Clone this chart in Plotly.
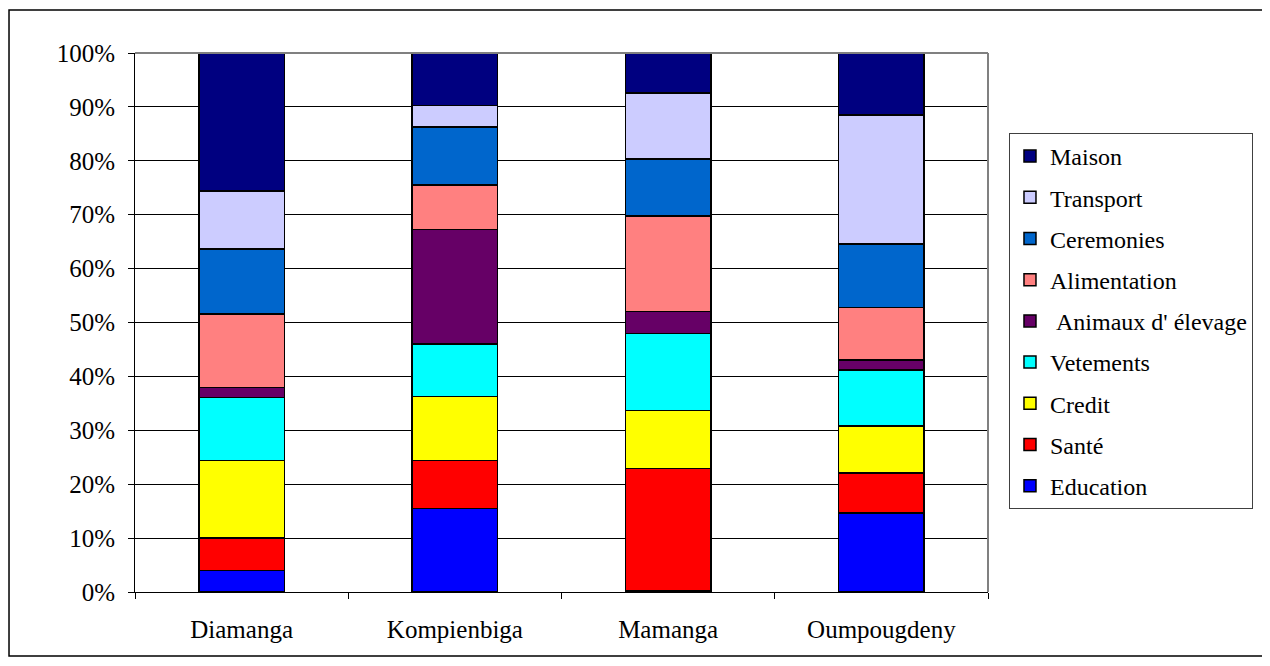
import plotly.graph_objects as go

villages = ["Diamanga", "Kompienbiga", "Mamanga", "Oumpougdeny"]
categories = ["Education", "Santé", "Credit", "Vetements", "Animaux d' élevage",
              "Alimentation", "Ceremonies", "Transport", "Maison"]
education = [4.0, 15.5, 0.3, 14.7]
sante = [6.0, 8.9, 22.6, 7.4]
credit = [14.4, 11.9, 10.8, 8.7]
vetements = [11.7, 9.7, 14.3, 10.4]
animaux = [1.8, 21.3, 4.0, 1.8]
alimentation = [13.7, 8.2, 17.8, 9.8]
ceremonies = [12.0, 10.8, 10.5, 11.8]
transport = [10.8, 4.0, 12.3, 23.9]
maison = [25.6, 9.7, 7.4, 11.5]
series = [education, sante, credit, vetements, animaux, alimentation, ceremonies, transport, maison]
colors = ["#0000FF", "#FF0000", "#FFFF00", "#00FFFF", "#660066",
          "#FF8080", "#0066CC", "#CCCCFF", "#000080"]
legend_names = ["Education", "Santé", "Credit", "Vetements", "\u00a0Animaux d'\u00a0élevage",
                "Alimentation", "Ceremonies", "Transport", "Maison"]

FONT = "Liberation Serif"

fig = go.Figure()
n = len(series)
for i, (name, vals, col) in enumerate(zip(legend_names, series, colors)):
    fig.add_trace(go.Bar(
        x=villages, y=vals, name=name, legendgroup=name, legendrank=n - i,
        marker=dict(color=col, line=dict(color="black", width=1.5)),
    ))

fig.update_layout(
    barmode="stack", barnorm="percent",
    width=1270, height=666,
    margin=dict(l=127, r=290, t=45, b=82),
    paper_bgcolor="white", plot_bgcolor="white",
    bargap=0.6,
    font=dict(family=FONT, size=24, color="black"),
    showlegend=True,
    legend=dict(
        x=1.0246, y=0.8516, xanchor="left", yanchor="top",
        traceorder="grouped", tracegroupgap=7,
        bordercolor="#404040", borderwidth=1, bgcolor="white",
        font=dict(family=FONT, size=24, color="black"),
    ),
    shapes=[
        dict(type="rect", xref="paper", yref="paper", x0=-0.1477, x1=1.3224, y0=-0.1187, y1=1.0798,
             line=dict(color="black", width=1.5), layer="below"),
        dict(type="line", xref="paper", yref="paper", x0=0, x1=1, y0=1, y1=1,
             line=dict(color="#808080", width=2)),
        dict(type="line", xref="paper", yref="paper", x0=1, x1=1, y0=0, y1=1,
             line=dict(color="#808080", width=2)),
    ],
)

fig.update_yaxes(
    range=[0, 100], tickvals=[0, 10, 20, 30, 40, 50, 60, 70, 80, 90, 100],
    ticktext=["0%", "10%", "20%", "30%", "40%", "50%", "60%", "70%", "80%", "90%", "100%"],
    showgrid=True, gridcolor="black", gridwidth=1,
    showline=True, linecolor="black", linewidth=1,
    ticks="outside", ticklen=6, tickcolor="black",
    tickfont=dict(family=FONT, size=25, color="black"),
    ticklabelstandoff=8,
    zeroline=False, fixedrange=True,
)
fig.update_xaxes(
    showline=True, linecolor="black", linewidth=1,
    ticks="outside", ticklen=6, tickcolor="black", tickson="boundaries",
    tickfont=dict(family=FONT, size=25, color="black"),
    ticklabelstandoff=15,
    showgrid=False, fixedrange=True,
)

fig.write_html("out.html")
